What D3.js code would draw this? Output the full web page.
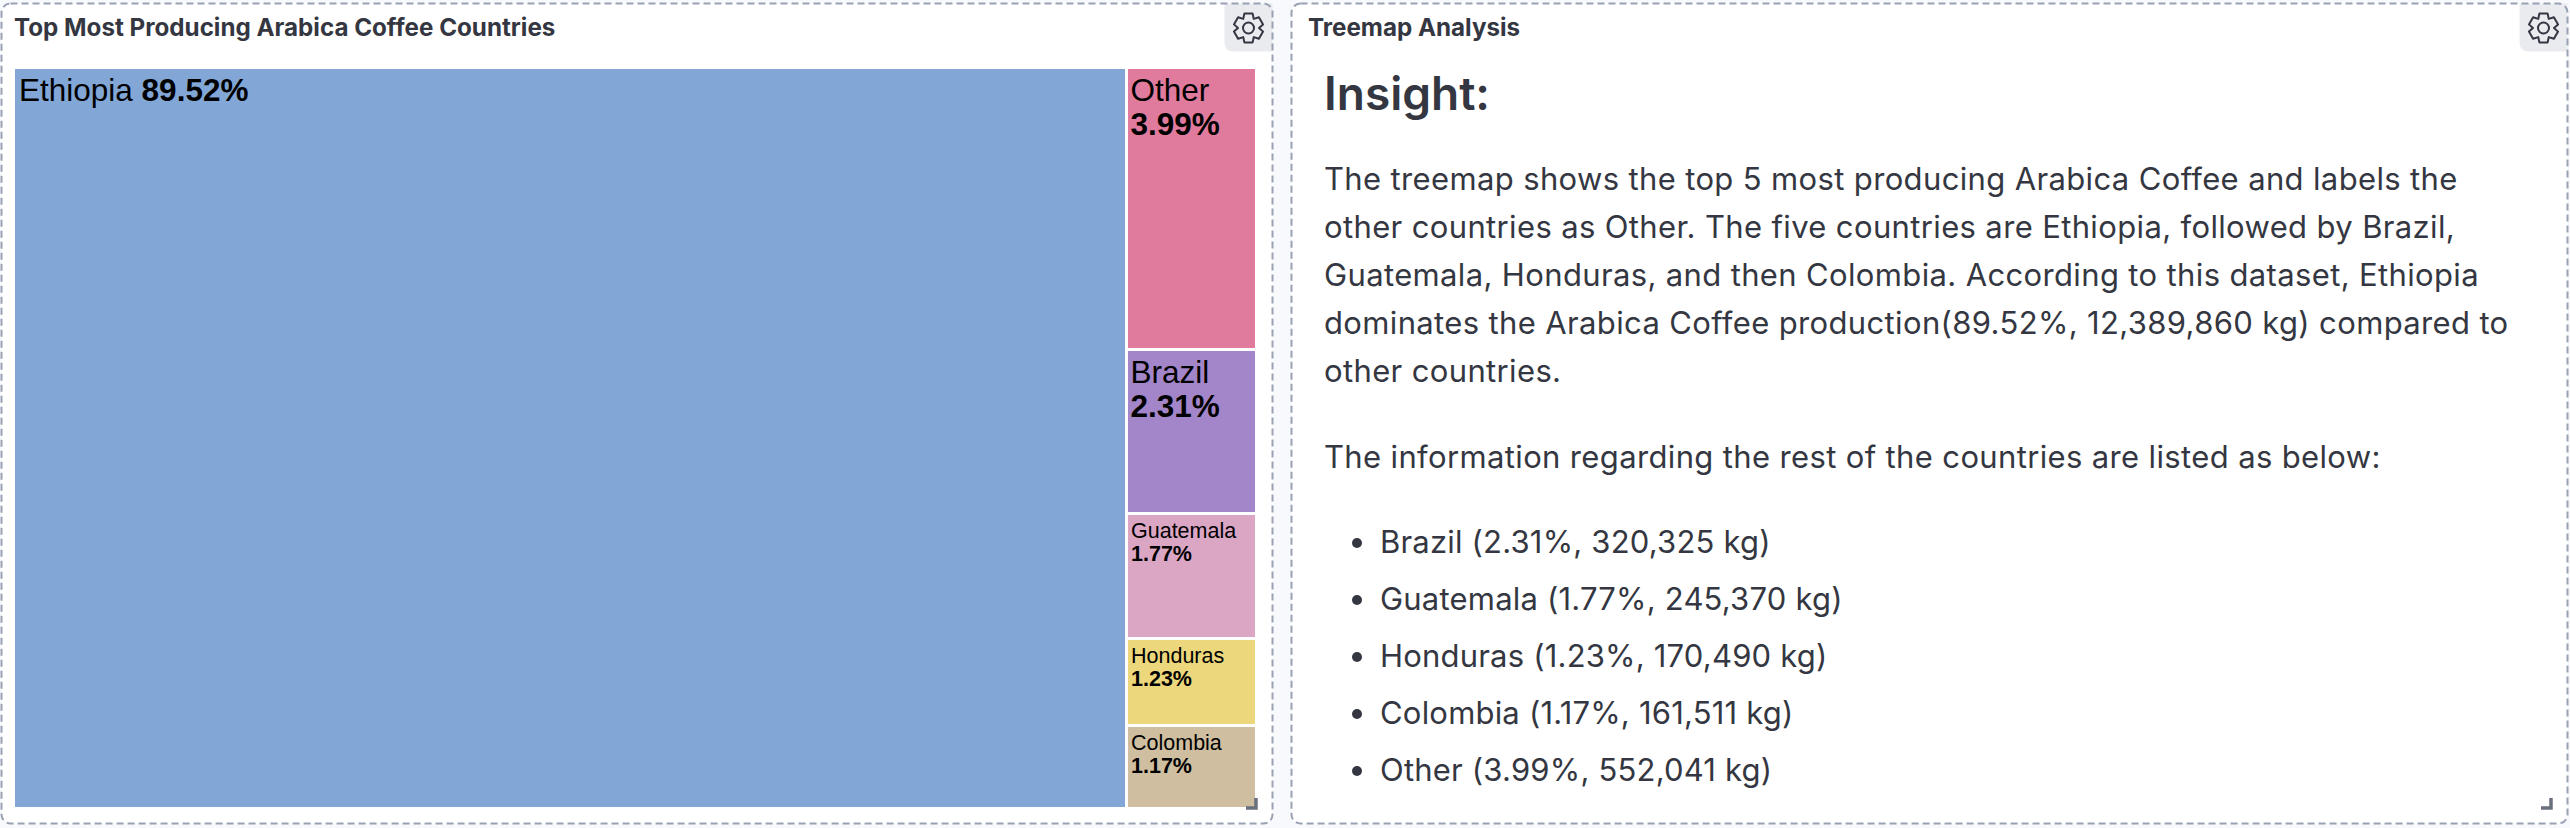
<!DOCTYPE html>
<html>
<head>
<meta charset="utf-8">
<script src="https://cdn.jsdelivr.net/npm/d3@7"></script>
<style>
html, body { margin: 0; padding: 0; background: #f8f9fd; overflow: hidden; }
svg { display: block; }
</style>
</head>
<body>
<script>
// chart values
var countries = ["Ethiopia", "Other", "Brazil", "Guatemala", "Honduras", "Colombia"];
var kilos = [12389860, 552041, 320325, 245370, 170490, 161511];
var percents = ["89.52%", "3.99%", "2.31%", "1.77%", "1.23%", "1.17%"];
var colors = ["#82a7d6", "#e07b9d", "#a385c9", "#dba6c4", "#ecd77d", "#cfbea0"];
var labelSizes = [31.5, 31.5, 31.5, 21.5, 21.5, 21.5];

var panelTitles = ["Top Most Producing Arabica Coffee Countries", "Treemap Analysis"];
var paragraphLines = [
    "The treemap shows the top 5 most producing Arabica Coffee and labels the",
    "other countries as Other. The five countries are Ethiopia, followed by Brazil,",
    "Guatemala, Honduras, and then Colombia. According to this dataset, Ethiopia",
    "dominates the Arabica Coffee production(89.52%, 12,389,860 kg) compared to",
    "other countries."
];
var secondParagraph = "The information regarding the rest of the countries are listed as below:";
var listItems = [
    "Brazil (2.31%, 320,325 kg)",
    "Guatemala (1.77%, 245,370 kg)",
    "Honduras (1.23%, 170,490 kg)",
    "Colombia (1.17%, 161,511 kg)",
    "Other (3.99%, 552,041 kg)"
];

var width = 2570,
    height = 828;

var svg = d3.select("body")
    .append("svg")
    .attr("width", width)
    .attr("height", height);

var ink = "#343741";

// dashboard panels
var panels = [
    {x: 1.5, y: 3.5, w: 1271, h: 820},
    {x: 1291.5, y: 3.5, w: 1276, h: 820}
];

panels.forEach(function(p, i){
    svg.append("rect")
        .attr("x", p.x)
        .attr("y", p.y)
        .attr("width", p.w)
        .attr("height", p.h)
        .attr("rx", 9)
        .attr("fill", "#fff");

    // settings button in the top right corner
    var bx = p.x + p.w - 48, by = p.y;
    svg.append("path")
        .attr("d", "M" + bx + "," + by + "H" + (bx + 48) + "V" + (by + 48) + "H" + (bx + 9)
            + "Q" + bx + "," + (by + 48) + " " + bx + "," + (by + 39) + "Z")
        .attr("fill", "#e9ebee");

    var gear = svg.append("g")
        .attr("transform", "translate(" + (bx + 24) + "," + (by + 24.5) + ")")
        .attr("fill", "none")
        .attr("stroke", ink)
        .attr("stroke-width", 2);
    var lobes = d3.range(6).flatMap(function(k){
        var a = k * Math.PI / 3;
        return [[a - 0.28, 15], [a + 0.28, 15], [a + 0.52, 10.5]];
    });
    gear.append("path")
        .attr("d", d3.lineRadial()
            .angle(function(d){ return d[0]; })
            .radius(function(d){ return d[1]; })
            .curve(d3.curveLinearClosed)(lobes))
        .attr("stroke-linejoin", "round");
    gear.append("circle").attr("r", 5.5);

    // outline goes over the button
    svg.append("rect")
        .attr("x", p.x)
        .attr("y", p.y)
        .attr("width", p.w)
        .attr("height", p.h)
        .attr("rx", 9)
        .attr("fill", "none")
        .attr("stroke", "#98a2b3")
        .attr("stroke-width", 2)
        .attr("stroke-dasharray", "7 4");

    svg.append("text")
        .attr("x", i == 0 ? 14 : 1308)
        .attr("y", 36)
        .attr("font-family", "Inter")
        .attr("font-weight", 700)
        .attr("font-size", 24.2)
        .attr("fill", ink)
        .text(panelTitles[i]);
});

// treemap: Ethiopia takes the left part, the rest stack in one column
var treeData = {
    name: "root",
    children: [
        {name: countries[0], value: kilos[0], index: 0},
        {name: "rest", children: countries.slice(1).map(function(c, i){
            return {name: c, value: kilos[i + 1], index: i + 1};
        })}
    ]
};

var root = d3.hierarchy(treeData).sum(function(d){ return d.value; });

d3.treemap()
    .tile(function(node, x0, y0, x1, y1){
        (node.depth == 0 ? d3.treemapDice : d3.treemapSlice)(node, x0, y0, x1, y1);
    })
    .size([1240, 738])
    .paddingInner(3)
    .round(true)(root);

var map = svg.append("g")
    .attr("class", "map")
    .attr("transform", "translate(15,69)");

var cells = map.selectAll(".cell")
    .data(root.leaves())
    .enter()
    .append("g")
    .attr("class", "cell")
    .attr("transform", function(d){
        return "translate(" + d.x0 + "," + d.y0 + ")";
    });

cells.append("rect")
    .attr("width", function(d){ return d.x1 - d.x0; })
    .attr("height", function(d){ return d.y1 - d.y0; })
    .attr("fill", function(d){ return colors[d.data.index]; });

var label = cells.append("text")
    .attr("font-family", "'Liberation Sans', Arial, sans-serif")
    .attr("fill", "#000")
    .attr("font-size", function(d){ return labelSizes[d.data.index]; })
    .attr("x", 4);

// Ethiopia has room for one line, the others wrap the share below the name
label.each(function(d){
    var t = d3.select(this), size = labelSizes[d.data.index];
    var top = size > 30 ? 32 : 23;
    var left = size > 30 ? 2.5 : 3;
    if (d.data.index == 0) {
        t.append("tspan").attr("y", top).text(d.data.name + " ");
        t.append("tspan").attr("font-weight", 700).text(percents[0]);
    } else {
        t.append("tspan").attr("x", left).attr("y", top).text(d.data.name);
        t.append("tspan")
            .attr("x", left)
            .attr("y", top + size * 1.09)
            .attr("font-weight", 700)
            .text(percents[d.data.index]);
    }
});

// resize handles sit on top of everything
panels.forEach(function(p){
    var hx = p.x + p.w - 16.5, hy = p.y + p.h - 15.5;
    svg.append("path")
        .attr("d", "M" + (hx - 10) + "," + hy + "H" + hx + "V" + (hy - 10))
        .attr("fill", "none")
        .attr("stroke", "#69707d")
        .attr("stroke-width", 3.5);
});

// insight text on the right
var note = svg.append("g")
    .attr("font-family", "Inter")
    .attr("fill", ink);

note.append("text")
    .attr("x", 1324)
    .attr("y", 110)
    .attr("font-size", 46)
    .attr("font-weight", 600)
    .text("Insight:");

note.selectAll(".para")
    .data(paragraphLines)
    .enter()
    .append("text")
    .attr("class", "para")
    .attr("x", 1324)
    .attr("y", function(d, i){ return 190 + i * 48; })
    .attr("font-size", 31)
    .attr("letter-spacing", 0.36)
    .text(function(d){ return d; });

note.append("text")
    .attr("x", 1324)
    .attr("y", 468)
    .attr("font-size", 31)
    .attr("letter-spacing", 0.36)
    .text(secondParagraph);

var items = note.selectAll(".item")
    .data(listItems)
    .enter()
    .append("g")
    .attr("class", "item")
    .attr("transform", function(d, i){ return "translate(0," + (553 + i * 57) + ")"; });

items.append("circle")
    .attr("cx", 1357)
    .attr("cy", -10)
    .attr("r", 5)
    .attr("fill", ink);

items.append("text")
    .attr("x", 1380)
    .attr("font-size", 31)
    .attr("letter-spacing", 0.2)
    .text(function(d){ return d; });
</script>
</body>
</html>
